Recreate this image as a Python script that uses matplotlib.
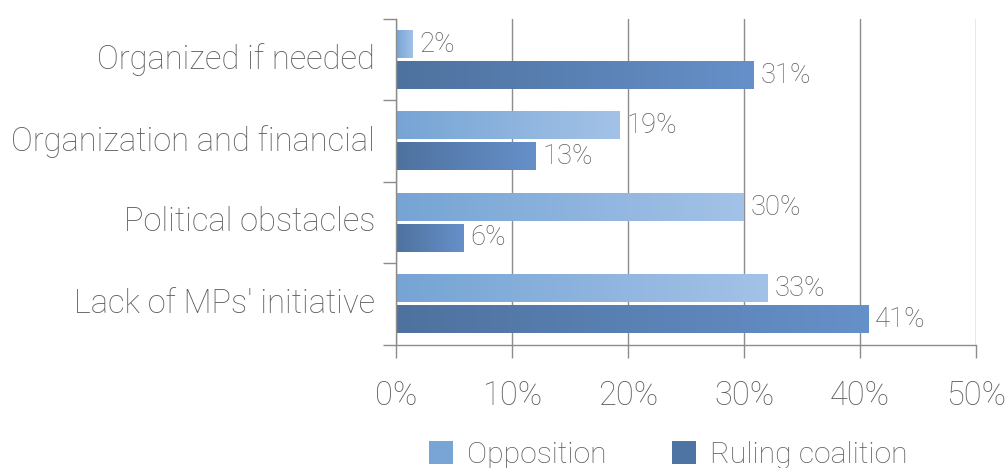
import numpy as np
import matplotlib
matplotlib.use("Agg")
import matplotlib.pyplot as plt
from matplotlib.colors import LinearSegmentedColormap
from matplotlib.patches import Patch
from matplotlib.ticker import FixedLocator, PercentFormatter

plt.rcParams['font.family'] = ['Roboto', 'DejaVu Sans']
plt.rcParams['font.weight'] = 'light'

# ---- data ----
categories = ["Organized if needed", "Organization and financial",
              "Political obstacles", "Lack of MPs' initiative"]
series_names = ["Opposition", "Ruling coalition"]
opposition = [1.4, 19.3, 30.0, 32.0]
ruling = [30.8, 12.0, 5.8, 40.7]
opposition_labels = ["2%", "19%", "30%", "33%"]
ruling_labels = ["31%", "13%", "6%", "41%"]
x_ticks = [0, 10, 20, 30, 40, 50]

# ---- style ----
text_color = "#5e5e5e"
grid_color = "#8c8c8c"
opp_grad = ["#76a4d4", "#a3c2e7"]
rul_grad = ["#4e729f", "#6690c9"]
opp_solid = "#78a5d5"
rul_solid = "#4e74a3"

fig = plt.figure(figsize=(10.06, 4.68), dpi=100)
ax = fig.add_axes([396/1006, 1-344.5/468, (976-396)/1006, (344.5-19)/468])

y = np.arange(len(categories))
h = 0.338
off = 0.189

bars_opp = ax.barh(y - off, opposition, height=h, color='none', edgecolor='none')
bars_rul = ax.barh(y + off, ruling, height=h, color='none', edgecolor='none')

grad = np.linspace(0, 1, 256).reshape(1, -1)
for bars, cols in ((bars_opp, opp_grad), (bars_rul, rul_grad)):
    cmap = LinearSegmentedColormap.from_list("g", cols)
    for p in bars:
        x0, w = p.get_x(), p.get_width()
        y0, hh = p.get_y(), p.get_height()
        ax.imshow(grad, cmap=cmap, aspect='auto', interpolation='bilinear',
                  extent=[x0, x0 + w, y0 + hh, y0], zorder=2)

for bars, labs in ((bars_opp, opposition_labels), (bars_rul, ruling_labels)):
    for p, lab in zip(bars, labs):
        ax.annotate(lab, (p.get_x() + p.get_width(), p.get_y() + p.get_height()/2),
                    xytext=(5, 0), textcoords='offset points', va='center', ha='left',
                    fontsize=19.8, color=text_color, fontweight='light', zorder=3)

ax.set_xlim(0, 50)
ax.set_ylim(len(categories) - 0.5, -0.5)

ax.xaxis.set_major_locator(FixedLocator(x_ticks))
ax.xaxis.set_major_formatter(PercentFormatter(decimals=0))
ax.yaxis.set_major_locator(FixedLocator(np.arange(-0.5, len(categories), 1.0)))
ax.yaxis.set_major_formatter(plt.NullFormatter())
ax.set_yticks(y, categories, minor=True)
for t in ax.get_yticklabels(minor=True):
    t.set_verticalalignment('center')

ax.tick_params(axis='y', which='major', length=9.4, width=1, color=grid_color)
ax.tick_params(axis='y', which='minor', length=0, pad=15, labelsize=23.5, labelcolor=text_color)
ax.tick_params(axis='x', which='major', length=9.4, width=1, color=grid_color,
               pad=16, labelsize=23.5, labelcolor=text_color)

ax.grid(axis='x', color=grid_color, linewidth=1)
ax.set_axisbelow(True)
for s in ('top', 'right'):
    ax.spines[s].set_visible(False)
for s in ('left', 'bottom'):
    ax.spines[s].set_color(grid_color)
    ax.spines[s].set_linewidth(1)

handles = [Patch(facecolor=opp_solid, edgecolor='none'),
           Patch(facecolor=rul_solid, edgecolor='none')]
leg = fig.legend(handles, series_names, loc='center', bbox_to_anchor=(0.6645, 0.028),
                 ncol=2, frameon=False, fontsize=21.7, handlelength=0.8, handleheight=0.76,
                 handletextpad=0.46, columnspacing=2.16, borderaxespad=0, borderpad=0)
for t in leg.get_texts():
    t.set_color(text_color)
    t.set_fontweight('light')

fig.savefig("out.png", dpi=100)
